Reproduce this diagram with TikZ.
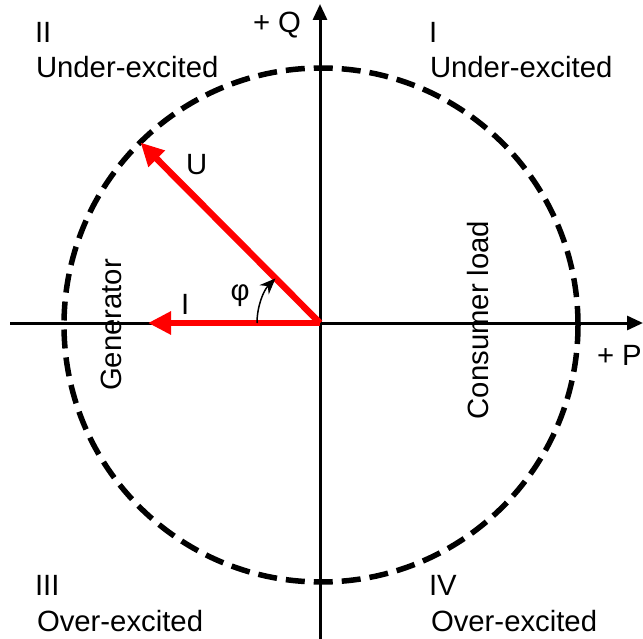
\documentclass[tikz,border=0pt]{standalone}
\usepackage{fontspec}
\setmainfont{Liberation Sans}
\usetikzlibrary{arrows.meta}
\begin{document}
\begin{tikzpicture}[x=1pt,y=-1pt,
  lbl/.style={inner sep=0pt,outer sep=0pt,font=\fontsize{29.3}{35}\selectfont},
  axis/.style={line width=3pt,-{Triangle[length=16pt,width=14pt]}},
  phasor/.style={line width=6.5pt,red,-{Triangle[length=23pt,width=22pt]},shorten >=-2pt},
  circ/.style={line width=5.5pt,dash pattern=on 19pt off 9pt}]
\useasboundingbox (0,0) rectangle (643,639);
\coordinate (O) at (320,323);
\coordinate (xl) at (10,323);
\coordinate (xr) at (643,323);
\coordinate (yb) at (320,639);
\coordinate (yt) at (320,4);
\coordinate (Ut) at (142,144);
\coordinate (It) at (150,323);
% axes
\draw[axis] (xl) -- (xr);
\draw[axis] (yb) -- (yt);
% circle
\draw[circ] (321,325) circle[radius=257];
% phasors
\draw[phasor] (O) -- (Ut);
\draw[phasor] (O) -- (It);
% angle arc
\draw[line width=1.5pt,-{Stealth[length=16pt,width=13pt]}] ([shift={(180:63)}]O) arc[start angle=180,end angle=225,radius=63];
% labels
\node[lbl,anchor=base west] (q2) at (35,43) {II};
\node[lbl,anchor=base west] (q2t) at (36,78) {Under-excited};
\node[lbl,anchor=base west] (q1) at (429,43) {I};
\node[lbl,anchor=base west] (q1t) at (430,78) {Under-excited};
\node[lbl,anchor=base west] (q3) at (35,595) {III};
\node[lbl,anchor=base west] (q3t) at (37,631) {Over-excited};
\node[lbl,anchor=base west] (q4) at (429,595) {IV};
\node[lbl,anchor=base west] (q4t) at (431,631) {Over-excited};
\node[lbl,anchor=base west] (qlab) at (253,33) {+ Q};
\node[lbl,anchor=base west] (plab) at (597,365) {+ P};
\node[lbl,anchor=base west] (ulab) at (186,175) {U};
\node[lbl,anchor=base west] (ilab) at (181,315) {I};
\node[lbl] (phi) at (240,296) {φ};
\node[lbl,rotate=90] (gen) at (111,325) {Generator};
\node[lbl,rotate=90] (cons) at (478,320) {Consumer load};
\end{tikzpicture}
\end{document}
